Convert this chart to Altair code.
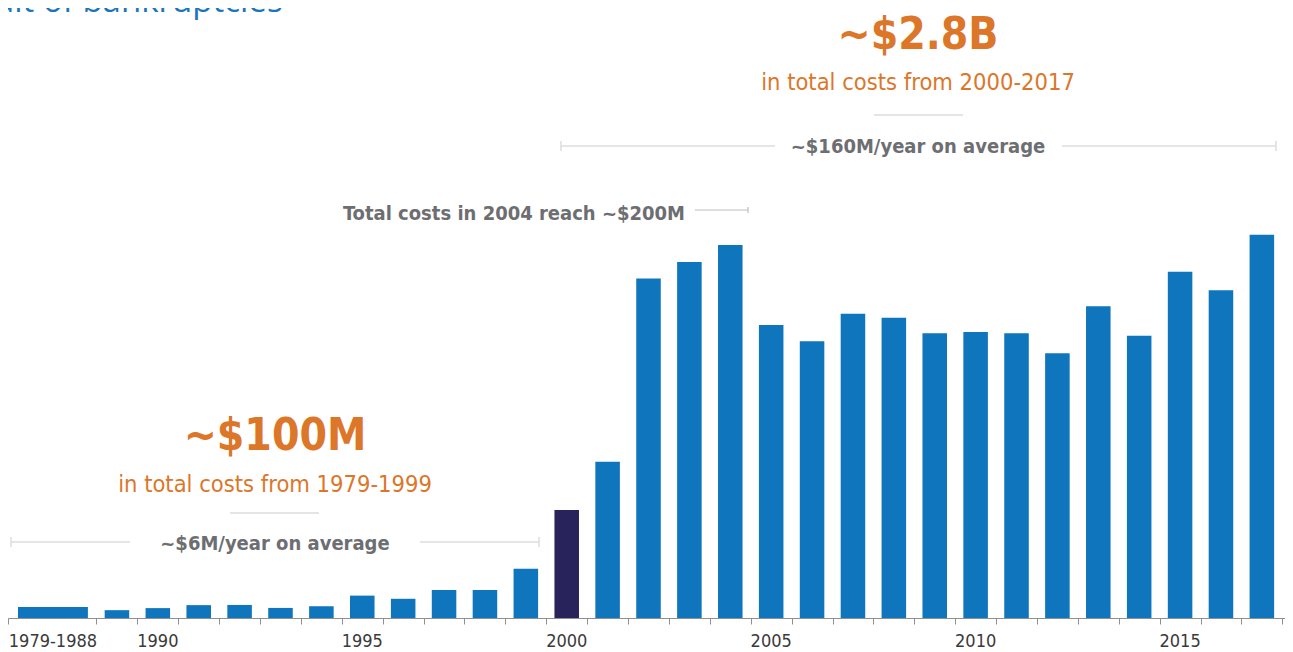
import altair as alt
import pandas as pd

# ---- data (values in $M) ----
labels = ["1979-1988", "1989", "1990", "1991", "1992", "1993", "1994", "1995",
          "1996", "1997", "1998", "1999", "2000", "2001", "2002", "2003", "2004",
          "2005", "2006", "2007", "2008", "2009", "2010", "2011", "2012", "2013",
          "2014", "2015", "2016", "2017"]
costs = [5.9, 4.2, 5.3, 6.9, 7.0, 5.4, 6.3, 12.0, 10.3, 15.0, 15.0, 26.4,
         57.9, 83.8, 182.1, 190.9, 200.0, 157.1, 148.4, 163.2, 161.0, 152.7,
         153.4, 152.7, 141.9, 167.1, 151.4, 185.7, 175.7, 205.5]
shown_ticks = ["1979-1988", "1990", "1995", "2000", "2005", "2010", "2015"]
highlight = "2000"

BLUE = "#0f75bc"
NAVY = "#29235c"
ORANGE = "#dc7629"
GRAY_TXT = "#6d6e71"
LINE = "#dcdcdc"
FONT = "DejaVu Sans Condensed, DejaVu Sans, Open Sans"

W, H = 1277, 610

rows = []
for lab, v in zip(labels, costs):
    if "-" in lab:
        end = int(lab.split("-")[1])
        x0, x1 = end - 1.42, end + 0.29
    else:
        y = int(lab)
        x0, x1 = y - 0.3, y + 0.3
    rows.append({"label": lab, "value": v, "x0": x0, "x1": x1, "xc": (x0 + x1) / 2})
df = pd.DataFrame(rows)
lab_df = df[df["label"].isin(shown_ticks)]

xscale = alt.Scale(domain=[1986.336, 2017.566], nice=False, zero=False)
yscale = alt.Scale(domain=[0, 327.08], nice=False)
bounds = [1986.336] + [b + 0.5 for b in range(1988, 2018)]

bars = alt.Chart(df).mark_bar().encode(
    x=alt.X("x0:Q", scale=xscale,
            axis=alt.Axis(values=bounds, labels=False, grid=False, title=None,
                          tickSize=6, tickColor="#8f8f8f", domainColor="#8f8f8f",
                          domainWidth=1, tickWidth=1)),
    x2="x1:Q",
    y=alt.Y("value:Q", scale=yscale, axis=None),
    y2=alt.datum(0),
    color=alt.condition(alt.datum.label == highlight, alt.value(NAVY), alt.value(BLUE)),
)

xlabels = alt.Chart(lab_df).mark_text(
    font=FONT, fontSize=18, color="#3a3a3a", baseline="alphabetic", align="center"
).encode(x=alt.X("xc:Q", scale=xscale), y=alt.value(639), text="label:N")


def txt(s, x, y, size, color, weight="normal", align="center", font=FONT):
    return alt.Chart(pd.DataFrame({"t": [s]})).mark_text(
        font=font, fontSize=size, color=color, fontWeight=weight,
        align=align, baseline="alphabetic"
    ).encode(x=alt.value(x), y=alt.value(y), text="t:N")


def hline(xa, xb, y, color=LINE, w=1.5):
    return alt.Chart(pd.DataFrame({"a": [0]})).mark_rule(color=color, strokeWidth=w).encode(
        x=alt.value(xa), x2=alt.value(xb), y=alt.value(y))


def vcap(x, y, h=5, color=LINE, w=1.5):
    return alt.Chart(pd.DataFrame({"a": [0]})).mark_rule(color=color, strokeWidth=w).encode(
        x=alt.value(x), y=alt.value(y - h), y2=alt.value(y + h))


layers = [
    bars, xlabels,
    # partial title at top (cut by the page edge, as in the original)
    txt("ult of bankruptcies", -14, 4, 33, "#1b75bb", "normal", "left", "Open Sans"),
    # 2000-2017 annotation
    txt("~$2.8B", 910, 41, 44, ORANGE, "bold"),
    txt("in total costs from 2000-2017", 910, 82, 23.5, ORANGE),
    hline(866, 955, 107),
    txt("~$160M/year on average", 910, 145, 20, GRAY_TXT, "bold"),
    hline(553, 767, 138), hline(1054, 1268, 138), vcap(553, 138), vcap(1268, 138),
    # 2004 annotation
    txt("Total costs in 2004 reach ~$200M", 677, 212, 20, GRAY_TXT, "bold", "right"),
    hline(687, 740, 202, color="#bdbdbd", w=1.2), vcap(740, 202, 3, color="#bdbdbd", w=1.2),
    # 1979-1999 annotation
    txt("~$100M", 267, 442, 44, ORANGE, "bold"),
    txt("in total costs from 1979-1999", 267, 484, 23.5, ORANGE),
    hline(222, 311, 505),
    txt("~$6M/year on average", 267, 542, 20, GRAY_TXT, "bold"),
    hline(3, 122, 534), hline(412, 531, 534), vcap(3, 534), vcap(531, 534),
]

chart = alt.layer(*layers).properties(
    width=W, height=H,
    autosize=alt.AutoSizeParams(type="none"),
    padding={"left": 0, "top": 0, "right": 0, "bottom": 32},
).configure_view(stroke=None)

chart.save("out.html", embed_options={"renderer": "svg", "actions": False})
